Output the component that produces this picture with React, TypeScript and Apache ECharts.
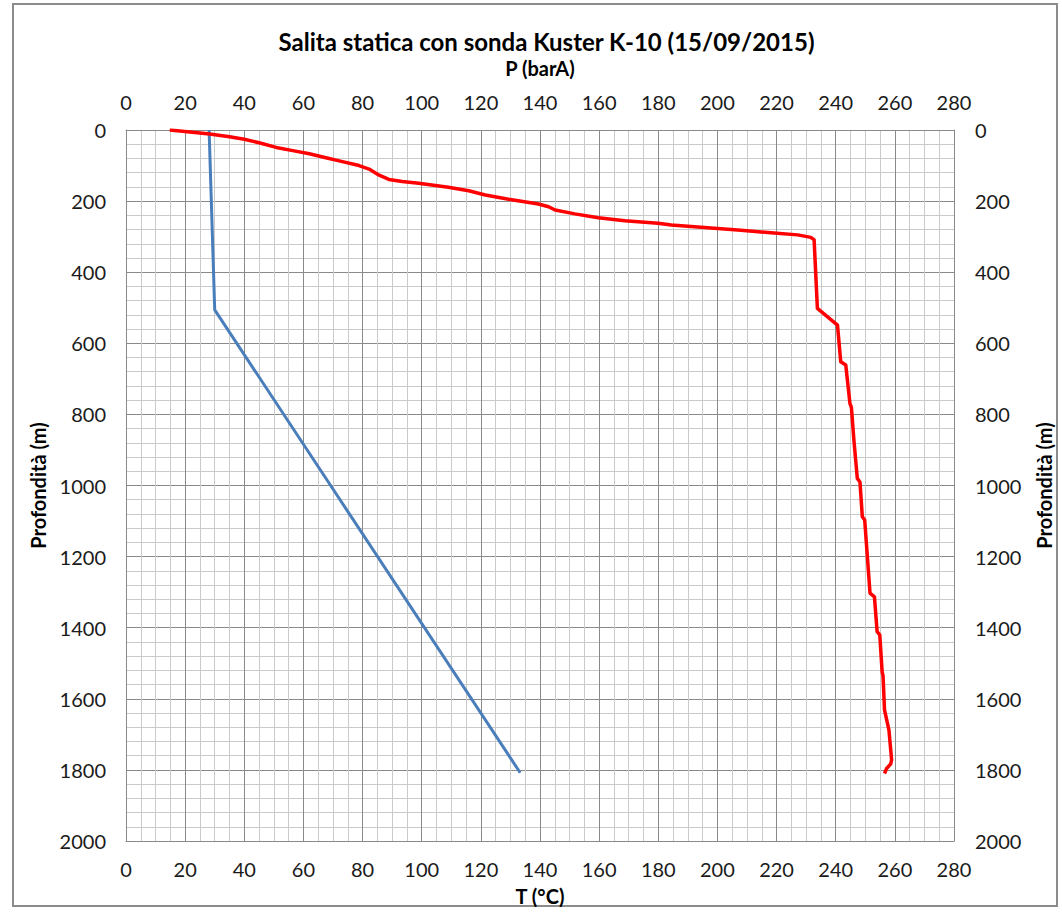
import { useEffect, useRef } from "react";
import * as echarts from "echarts";

// Pressure profile (P, barA) vs depth (m)
const depthP = [0, 11, 19, 26, 36, 49, 58, 67, 78, 89, 100, 110, 127, 139, 145, 150, 161, 171, 183, 195, 208, 216, 225, 236, 247, 255, 262, 267, 274, 281, 289, 295, 302, 309, 502, 549, 652, 661, 769, 780, 877, 980, 990, 1088, 1097, 1200, 1303, 1313, 1411, 1420, 1524, 1535, 1631, 1688, 1772, 1783, 1796, 1810];
const pressure = [14.8, 28.3, 35, 40, 45, 50.8, 56.4, 62, 67.6, 73.2, 78.8, 82.2, 85.6, 88.9, 93.4, 99, 109, 115.9, 121.5, 129.4, 139.5, 142.9, 145.1, 151.8, 159.7, 168.7, 179.9, 184.4, 195.6, 206.9, 218.1, 227.1, 231.6, 232.7, 233.8, 240.6, 241.7, 243.4, 244.8, 245.3, 246.2, 247.3, 248.2, 249, 249.8, 250.7, 251.6, 253.1, 254, 254.9, 255.7, 256.0, 256.5, 258, 258.9, 258.6, 257.2, 256.5];

// Temperature profile (T, °C) vs depth (m)
const depthT = [0, 506, 1000, 1808];
const temperature = [28.1, 30, 69.2, 133.3];

const xMin = 0;
const xMax = 280;
const xInterval = 20;
const yMin = 0;
const yMax = 2000;
const yInterval = 200;

const title = "Salita statica con sonda Kuster K-10 (15/09/2015)";
const topAxisName = "P (barA)";
const bottomAxisName = "T (°C)";
const depthName = "Profondità (m)";

const FONT = "Lato, 'Open Sans', sans-serif";

const GRID_LEFT = 126;
const GRID_RIGHT = 105;
const GRID_TOP = 130;
const GRID_BOTTOM = 71;
const W = 1062;
const H = 912;

export default function App() {
  const ref = useRef<HTMLDivElement>(null);
  useEffect(() => {
    if (!ref.current) return;
    const chart = echarts.init(ref.current, undefined, { renderer: "svg" });
    const labelStyle = { color: "#1a1a1a", fontSize: 20, fontFamily: FONT };
    const nameStyle = { color: "#000", fontSize: 20, fontWeight: "bold" as const, fontFamily: FONT };
    const plain = (v: number) => String(v);
    const xBase = (pos: "top" | "bottom", name: string, grid: boolean, gap: number) => ({
      type: "value" as const,
      position: pos,
      min: xMin,
      max: xMax,
      interval: xInterval,
      name,
      nameLocation: "middle" as const,
      nameGap: gap,
      nameTextStyle: nameStyle,
      axisLine: { show: true, onZero: false, lineStyle: { color: "#8a8a8a", width: 1 } },
      axisTick: { show: false },
      axisLabel: { ...labelStyle, margin: 18, formatter: plain },
      splitLine: { show: grid, lineStyle: { color: "#8a8a8a", width: 1 } },
      minorTick: { show: false, splitNumber: 4 },
      minorSplitLine: { show: grid, lineStyle: { color: "#cacaca", width: 1 } },
    });
    const yBase = (pos: "left" | "right", grid: boolean, gap: number, margin: number) => ({
      type: "value" as const,
      position: pos,
      inverse: true,
      min: yMin,
      max: yMax,
      interval: yInterval,
      name: depthName,
      nameLocation: "middle" as const,
      nameGap: gap,
      nameRotate: 90,
      nameTextStyle: nameStyle,
      axisLine: { show: true, onZero: false, lineStyle: { color: "#8a8a8a", width: 1 } },
      axisTick: { show: false },
      axisLabel: { ...labelStyle, margin, formatter: plain },
      splitLine: { show: grid, lineStyle: { color: "#8a8a8a", width: 1 } },
      minorTick: { show: false, splitNumber: 5 },
      minorSplitLine: { show: grid, lineStyle: { color: "#cacaca", width: 1 } },
    });
    const plotCenter = GRID_LEFT + (W - GRID_LEFT - GRID_RIGHT) / 2;
    chart.setOption({
      animation: false,
      backgroundColor: "#ffffff",
      title: {
        text: title,
        left: plotCenter,
        textAlign: "center",
        top: 24,
        textStyle: { fontSize: 24, fontWeight: "bold", color: "#000", fontFamily: FONT },
      },
      grid: { left: GRID_LEFT, right: GRID_RIGHT, top: GRID_TOP, bottom: GRID_BOTTOM, containLabel: false },
      xAxis: [xBase("top", topAxisName, true, 52), xBase("bottom", bottomAxisName, false, 45)],
      yAxis: [yBase("left", true, 78, 20), yBase("right", false, 80, 21)],
      graphic: [
        {
          type: "rect",
          shape: { x: 13, y: 4, width: 1044, height: 902 },
          style: { fill: "none", stroke: "#8c8c8c", lineWidth: 2 },
          silent: true,
        },
      ],
      series: [
        {
          type: "line",
          name: "P",
          xAxisIndex: 0,
          yAxisIndex: 0,
          data: depthP.map((d, i) => [pressure[i], d]),
          showSymbol: false,
          symbol: "none",
          lineStyle: { color: "#ff0000", width: 3.5, join: "round" },
          z: 5,
        },
        {
          type: "line",
          name: "T",
          xAxisIndex: 1,
          yAxisIndex: 0,
          data: depthT.map((d, i) => [temperature[i], d]),
          showSymbol: false,
          symbol: "none",
          lineStyle: { color: "#4a7ebb", width: 3, join: "round" },
          z: 4,
        },
      ],
    });
    return () => chart.dispose();
  }, []);
  return (
    <div
      ref={ref}
      style={{ position: "fixed", left: 0, top: 0, width: W, height: H, background: "#fff" }}
    />
  );
}
